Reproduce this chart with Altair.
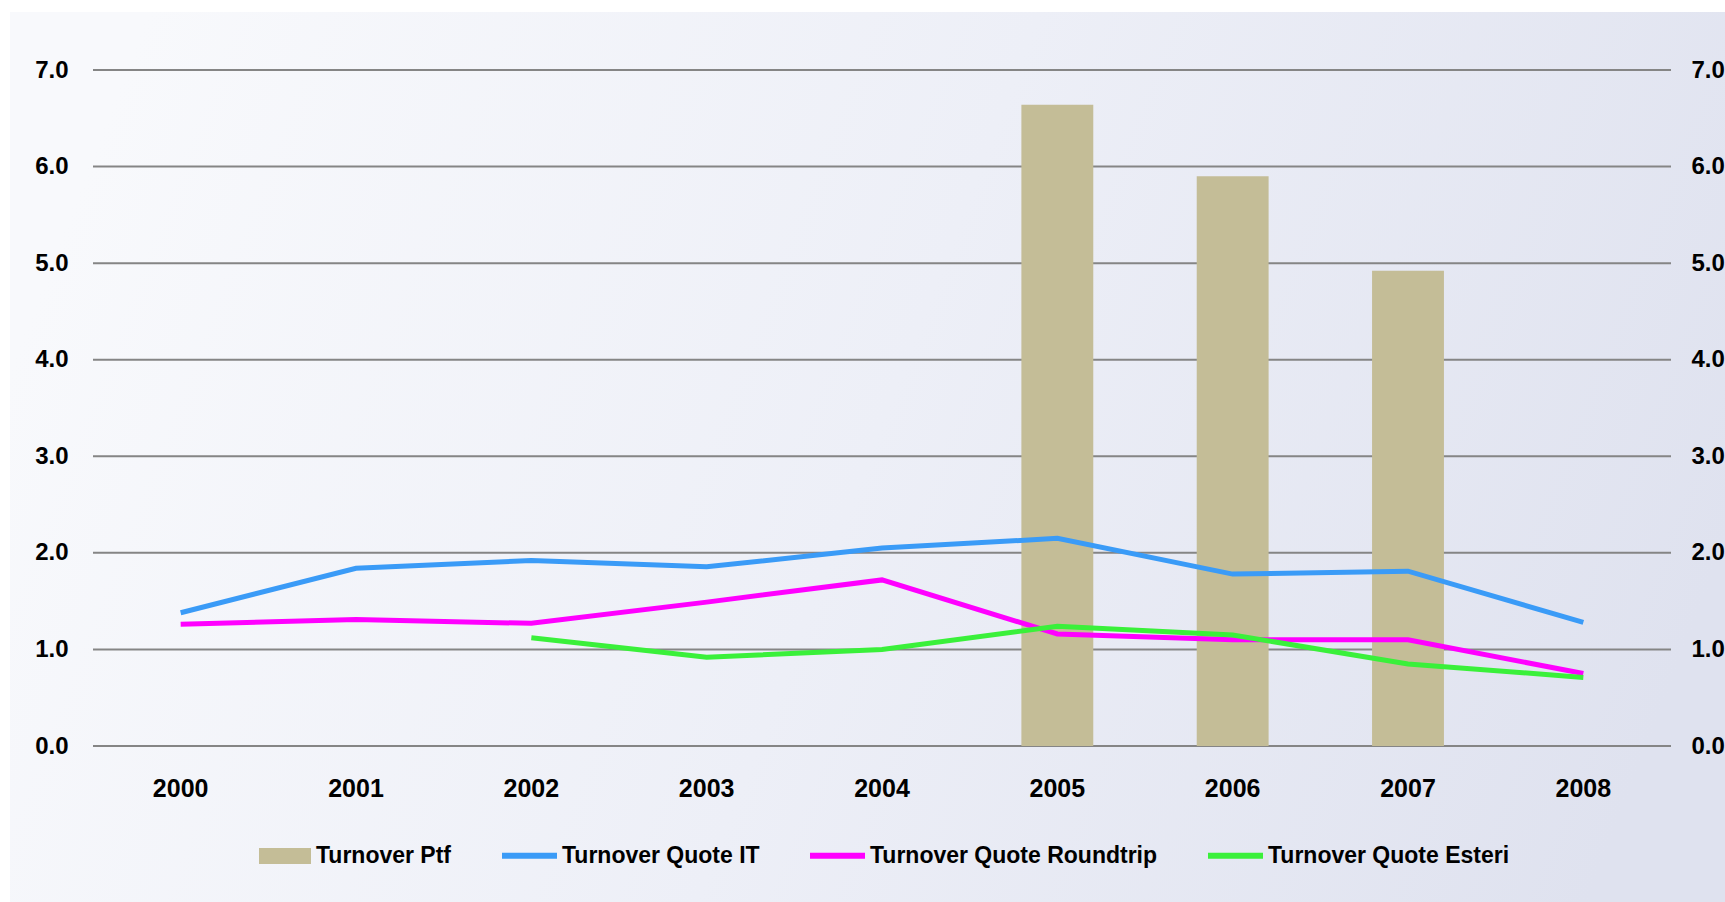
import altair as alt
import pandas as pd

years = ["2000", "2001", "2002", "2003", "2004", "2005", "2006", "2007", "2008"]
ptf = [None, None, None, None, None, 6.64, 5.90, 4.92, None]
quote_it = [1.38, 1.84, 1.92, 1.855, 2.05, 2.15, 1.78, 1.81, 1.28]
quote_roundtrip = [1.26, 1.31, 1.27, 1.49, 1.72, 1.16, 1.10, 1.10, 0.75]
quote_esteri = [None, None, 1.12, 0.92, 1.00, 1.24, 1.15, 0.85, 0.71]

bar_name = "Turnover Ptf"
line_names = ["Turnover Quote IT", "Turnover Quote Roundtrip", "Turnover Quote Esteri"]
y_ticks = [0, 1, 2, 3, 4, 5, 6, 7]

bar_df = pd.DataFrame({"year": years, "value": ptf, "bar_series": bar_name}).dropna()
rows = []
for name, vals in zip(line_names, [quote_it, quote_roundtrip, quote_esteri]):
    for yr, v in zip(years, vals):
        if v is not None:
            rows.append({"year": yr, "value": v, "series": name})
line_df = pd.DataFrame(rows)
tick_df = pd.DataFrame({"tick": y_ticks})

FONT = "Liberation Sans"
W, H = 1578, 676

x_enc = alt.X("year:N", sort=years, title=None,
              scale=alt.Scale(domain=years, paddingInner=0.59, paddingOuter=0.295),
              axis=alt.Axis(labelAngle=0, ticks=False, domain=False, grid=False, labelPadding=30,
                            labelFontSize=25, labelFontWeight="bold", labelColor="black",
                            labelFont=FONT, zindex=1))
y_scale = alt.Scale(domain=[0, 7], nice=False)

background = alt.Chart(pd.DataFrame({"a": [0]})).mark_rect(
    fill=alt.Gradient(gradient="linear", x1=0, y1=0.4, x2=1, y2=0.6,
                      stops=[alt.GradientStop(offset=0, color="#F8F9FC"),
                             alt.GradientStop(offset=0.5, color="#EDEFF7"),
                             alt.GradientStop(offset=1, color="#DFE2EF")]),
    clip=False
).encode(x=alt.value(-83), x2=alt.value(W + 54), y=alt.value(-58), y2=alt.value(H + 156))

gridlines = alt.Chart(tick_df).mark_rule(color="#858585", strokeWidth=2).encode(
    y=alt.Y("tick:Q", scale=y_scale, axis=None)
)

bars = alt.Chart(bar_df).mark_bar().encode(
    x=x_enc,
    y=alt.Y("value:Q", scale=y_scale, title=None,
            axis=alt.Axis(orient="left", values=y_ticks, format=".1f", ticks=False, domain=False,
                          grid=False, labelPadding=25,
                          labelFontSize=24, labelFontWeight="bold", labelColor="black",
                          labelFont=FONT, zindex=1)),
    fill=alt.Fill("bar_series:N", scale=alt.Scale(domain=[bar_name], range=["#C4BD97"]),
                  legend=alt.Legend(title=None, orient="none", legendX=166, legendY=760,
                                    symbolType="M-1,-0.31H1V0.31H-1Z", symbolSize=2704,
                                    symbolStrokeWidth=0, labelFontSize=23, labelFont=FONT,
                                    labelFontWeight="bold", labelColor="black",
                                    labelOffset=5, labelLimit=0, padding=0)),
)

lines = alt.Chart(line_df).mark_line(strokeWidth=5).encode(
    x=x_enc,
    y=alt.Y("value:Q", scale=y_scale, title=None,
            axis=alt.Axis(orient="right", values=y_ticks, format=".1f", ticks=False, domain=False,
                          grid=False, labelPadding=20, labelFontSize=24, labelFontWeight="bold",
                          labelColor="black", labelFont=FONT, zindex=1)),
    stroke=alt.Stroke("series:N", sort=line_names,
                      scale=alt.Scale(domain=line_names, range=["#3A9BF7", "#FF00FF", "#3AF03A"]),
                      legend=alt.Legend(title=None, orient="none", direction="horizontal",
                                        legendX=406, legendY=755, symbolType="stroke",
                                        symbolSize=3025, symbolStrokeWidth=6, columnPadding=38,
                                        labelFontSize=23, labelFont=FONT, labelFontWeight="bold",
                                        labelColor="black", labelOffset=2, labelLimit=0,
                                        padding=0)),
    detail="series:N",
)

chart = alt.layer(background, gridlines, bars, lines).resolve_axis(y="independent").properties(
    width=W, height=H,
    autosize=alt.AutoSizeParams(type="none"),
    padding={"left": 93, "top": 70, "right": 54, "bottom": 156},
    background="white",
).configure_view(stroke=None)

chart.save("out.html", embed_options={"renderer": "svg", "actions": False})
